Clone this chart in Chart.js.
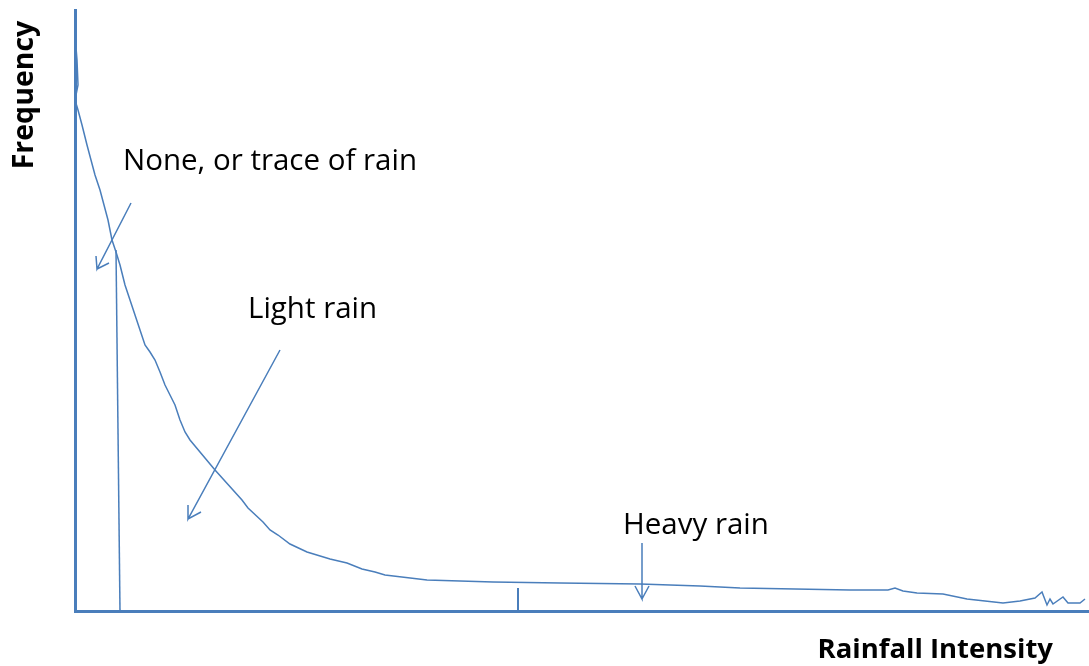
<!DOCTYPE html>
<html>
<head>
<meta charset="utf-8">
<script src="https://cdn.jsdelivr.net/npm/chart.js@4/dist/chart.umd.min.js"></script>
<style>
  html, body { margin: 0; padding: 0; background: #fff; }
  canvas { display: block; }
</style>
</head>
<body>
<canvas id="rainChart" width="1089" height="666"></canvas>
<script>
// rainfall intensity distribution (arbitrary units)
const intensity = [0, 2, 3, 0, 3, 7, 12, 16, 20, 25, 29, 33, 37, 41, 45, 50, 55, 60, 65, 70,
  75, 80, 85, 90, 95, 100, 105, 110, 115, 140, 167, 173, 188, 195, 203, 215, 232, 255, 272, 287,
  300, 310, 352, 418, 485, 565, 625, 665, 775, 813, 820, 828, 842, 868, 892, 928, 945, 960, 967, 972,
  975, 978, 988, 993, 1005, 1010];
const frequency = [576, 551, 526, 511, 501, 486, 466, 451, 436, 421, 406, 391, 371, 359, 346, 326, 311, 296, 281, 266,
  259, 251, 239, 226, 216, 206, 191, 179, 171, 141, 111, 103, 89, 81, 76, 67, 59, 52, 48, 42,
  39, 36, 31, 29, 28, 27, 25, 23, 21, 21, 23, 20, 18, 17, 12, 8, 10, 13, 19, 6,
  12, 7, 14, 8, 8, 12];

// cut-off line for "no rain" and the small tick between light and heavy
const cutoffX = [41, 45];
const cutoffY = [361, 0];
const tickX = [443, 443];
const tickY = [23, 0];

// arrows: shaft start, tip, barb, tip, barb
const noneArrowX = [56, 22, 21, 22, 34];
const noneArrowY = [408, 342, 355, 342, 348];
const lightArrowX = [205, 113, 113, 113, 126];
const lightArrowY = [261, 92, 106, 92, 99];
const heavyArrowX = [567, 567, 560, 567, 574];
const heavyArrowY = [68, 12, 25, 12, 25];

const labelTexts = ['None, or trace of rain', 'Light rain', 'Heavy rain'];
const labelX = [48, 173, 548];
const labelY = [449, 301, 85];

const BLUE = '#4a7ebb';

function pts(xs, ys) {
  return xs.map((x, i) => ({ x, y: ys[i] }));
}

function lineSet(xs, ys, width) {
  return {
    data: pts(xs, ys),
    showLine: true,
    borderColor: BLUE,
    borderWidth: width,
    pointRadius: 0,
    tension: 0,
    fill: false
  };
}

const textPlugin = {
  id: 'sketchText',
  afterDraw(chart) {
    const ctx = chart.ctx;
    const xs = chart.scales.x, ys = chart.scales.y;
    ctx.save();
    ctx.fillStyle = '#000';
    ctx.textBaseline = 'middle';
    ctx.textAlign = 'left';
    ctx.font = '29.5px "Open Sans", sans-serif';
    labelTexts.forEach((t, i) => {
      ctx.fillText(t, xs.getPixelForValue(labelX[i]), ys.getPixelForValue(labelY[i]));
    });
    ctx.font = 'bold 27.5px "Open Sans", sans-serif';
    ctx.textAlign = 'right';
    ctx.fillText('Rainfall Intensity', chart.chartArea.right - 36, 650);
    ctx.font = 'bold 28.5px "Open Sans", sans-serif';
    ctx.translate(25, 95);
    ctx.rotate(-Math.PI / 2);
    ctx.textAlign = 'center';
    ctx.fillText('Frequency', 0, 0);
    ctx.restore();
  }
};

new Chart(document.getElementById('rainChart'), {
  type: 'scatter',
  data: {
    datasets: [
      lineSet(intensity, frequency, 1.5),
      lineSet(cutoffX, cutoffY, 1.5),
      lineSet(tickX, tickY, 2),
      lineSet(noneArrowX, noneArrowY, 1.5),
      lineSet(lightArrowX, lightArrowY, 1.5),
      lineSet(heavyArrowX, heavyArrowY, 1.5)
    ]
  },
  options: {
    responsive: false,
    animation: false,
    devicePixelRatio: 1,
    layout: { padding: { left: 75, top: 10, right: 0, bottom: 55 } },
    plugins: { legend: { display: false }, tooltip: { enabled: false } },
    scales: {
      x: {
        type: 'linear', min: 0, max: 1014,
        grid: { display: false, drawTicks: false },
        ticks: { display: false },
        border: { display: true, color: BLUE, width: 3 }
      },
      y: {
        type: 'linear', min: 0, max: 601,
        grid: { display: false, drawTicks: false },
        ticks: { display: false },
        border: { display: true, color: BLUE, width: 3 }
      }
    }
  },
  plugins: [textPlugin]
});
</script>
</body>
</html>
